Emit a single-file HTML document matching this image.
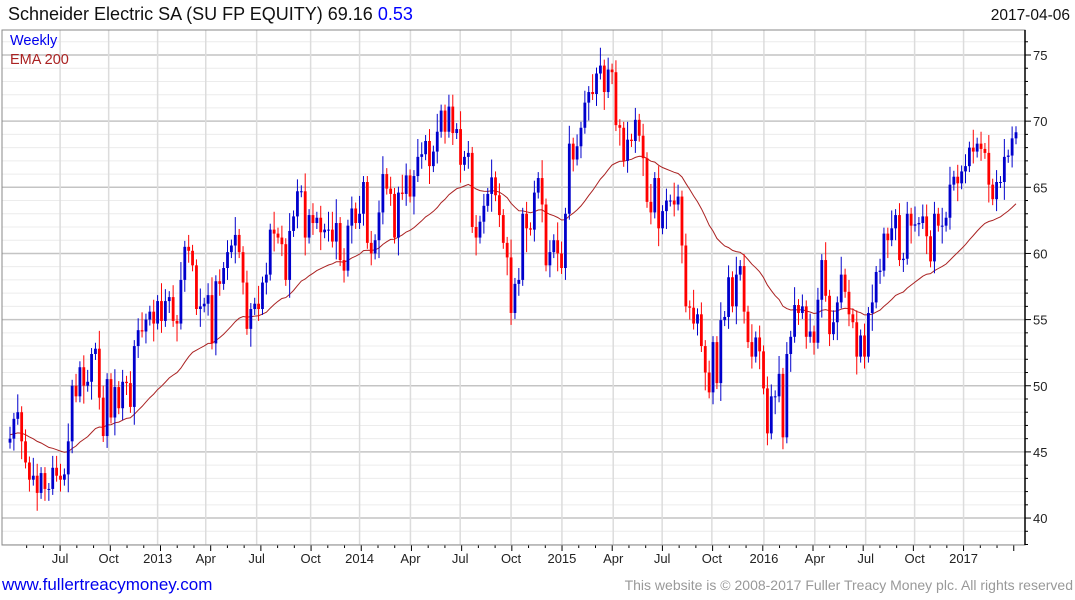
<!DOCTYPE html>
<html><head><meta charset="utf-8"><style>
body{margin:0;width:1075px;height:600px;background:#fff;overflow:hidden;font-family:"Liberation Sans",sans-serif}
svg{position:absolute;left:0;top:0}
</style></head><body>
<svg id="c" width="1075" height="600">
<text x="8" y="20" font-size="18" fill="#111">Schneider Electric SA (SU FP EQUITY) 69.16 <tspan fill="#0000ff">0.53</tspan></text>
<text x="1070" y="20" font-size="15.5" fill="#111" text-anchor="end">2017-04-06</text>
<g id="grid"></g><g id="ema"></g><g id="candles"></g><g id="axes"></g>
<text x="10" y="45" font-size="14.5" fill="#0000ee">Weekly</text>
<text x="10" y="64" font-size="14.5" fill="#aa2222">EMA 200</text>
<text x="2" y="590" font-size="17" fill="#0000ee">www.fullertreacymoney.com</text>
<text x="1073" y="590" font-size="14" fill="#999" text-anchor="end">This website is © 2008-2017 Fuller Treacy Money plc. All rights reserved</text>
</svg>
<script>
const closes=[46.0,47.5,48.0,45.8,44.2,42.9,43.2,41.9,43.4,42.2,42.2,43.8,43.2,42.9,43.3,45.8,50.0,49.2,51.4,50.0,50.3,52.4,52.8,49.1,46.2,50.5,47.6,49.9,48.3,50.3,50.2,48.4,53.0,54.2,54.1,55.0,55.6,54.7,56.4,54.9,56.4,56.7,54.9,54.7,58.0,60.5,60.2,
59.1,55.8,56.0,56.2,56.85,53.2,57.9,57.7,58.9,60.1,60.6,61.4,60.1,57.8,54.3,55.8,56.2,55.8,57.8,58.4,61.8,61.5,61.2,60.7,58.0,61.7,62.8,64.7,64.7,61.2,62.9,62.3,62.7,61.6,61.8,61.8,60.9,62.3,59.5,58.7,62.1,63.4,62.3,63.0,65.4,60.8,60.0,61.0,63.1,66.0,64.9,
64.5,61.2,64.6,64.5,65.9,64.3,65.85,67.3,67.5,68.5,66.6,67.7,69.2,70.8,69.2,71.1,69.1,69.4,66.7,67.3,67.6,62.0,61.2,62.4,63.6,64.5,65.75,64.4,62.9,60.8,59.7,55.5,57.7,58.0,63.0,61.9,61.8,64.6,65.7,63.7,59.1,60.1,61.0,60.0,58.9,63.0,68.3,67.1,68.1,
69.5,71.4,72.2,72.05,73.6,74.2,72.2,73.9,73.7,69.7,69.5,67.0,68.6,68.5,70.1,68.9,67.2,63.9,63.1,65.7,61.9,63.2,64.0,64.0,63.7,64.3,60.6,56.0,55.9,54.7,55.4,53.0,51.0,49.5,53.3,50.2,54.96,55.2,58.2,56.0,58.4,59.05,55.6,53.3,52.2,53.65,52.6,49.8,46.4,
49.2,49.2,50.9,46.1,52.4,53.7,56.1,55.5,56.0,53.7,54.1,53.25,56.5,59.5,56.8,53.9,54.8,56.3,58.4,57.1,55.4,54.8,52.2,53.8,52.2,55.5,56.3,58.6,58.7,61.5,61.0,61.9,62.9,59.5,59.6,63.0,62.1,62.2,62.3,62.8,61.3,59.4,63.0,62.1,62.1,62.7,65.2,65.8,65.3,66.2,66.6,68.0,67.7,68.3,67.9,67.6,65.2,64.1,65.4,65.4,67.3,67.4,68.7,69.16];
const upWick="2131213211122213121221132113121212311213212131211312312121311211312131213121312121334121213112123121132113212131122131212121312113121212131213213121213131212113121213121213212131212113121312131212213121312131213121312121213121131212131221213131212131213121312121213121";
const dnWick="1213121312211213211313121213122132121312121312211312122121312131212131213121312131213121311212132121312131213121212131213121312132121412131213121212131213121312121312131312131212131213121312121312131213121212131213112131213121312121312131213121312121213121312121312112";
const tickLabels=["Jul","Oct","2013","Apr","Jul","Oct","2014","Apr","Jul","Oct","2015","Apr","Jul","Oct","2016","Apr","Jul","Oct","2017"];
const tickIndex=[12.9,25.4,38,50.4,63.5,77.4,90,103.1,115.9,129,142.1,155.3,167.9,180.7,194.1,207.2,220.3,232.9,245.5];
const yTicks=[40,45,50,55,60,65,70,75];
const emaPeriod=40;
const NS="http://www.w3.org/2000/svg";
const L=2,R=1025,T=30,B=545;
const n=closes.length;
const xs=i=>10+i*(1006/(n-1));
const ys=p=>55+(75-p)*13.23;
function mk(tag,attrs,parent){const e=document.createElementNS(NS,tag);for(const k in attrs)e.setAttribute(k,attrs[k]);parent.appendChild(e);return e;}
const grid=document.getElementById('grid'),axes=document.getElementById('axes'),cg=document.getElementById('candles'),eg=document.getElementById('ema');
for(let p=38;p<=77;p++){const y=ys(p);if(y<T||y>B)continue;
 const l=mk('line',{x1:L,x2:R,y1:y,y2:y,stroke:p%5===0?'#c4c4c4':'#ececec','stroke-width':p%5===0?1.5:1},grid);
 
 
 const t=mk('line',{x1:R,x2:R+(p%5===0?6:3),y1:y,y2:y,stroke:'#000'},axes);
 
 }
yTicks.forEach(v=>{const t=mk('text',{x:1033,y:ys(v)+5,'font-size':13,fill:'#222'},axes);t.textContent=v;
 
 });
tickIndex.forEach((ti,k)=>{const x=xs(ti);
 const l=mk('line',{x1:x,x2:x,y1:T,y2:B,stroke:'#dcdcdc','stroke-width':1.5},grid);
 
 
 const t=mk('text',{x:x,y:563,'font-size':13,fill:'#222','text-anchor':'middle'},axes);t.textContent=tickLabels[k];
 
 });
for(let m=0;m<60;m++){const ti=tickIndex[0]+(m-2)*(tickIndex[18]-tickIndex[0])/54;const x=xs(ti);if(x<L||x>R)continue;
 const t=mk('line',{x1:x,x2:x,y1:B,y2:B+(m%3===2?6:3),stroke:'#000'},axes);
 
 }
const fr=mk('rect',{x:L,y:T,width:R-L,height:B-T,fill:'none',stroke:'#888'},axes);


const ax=mk('line',{x1:R,x2:R,y1:T,y2:B,stroke:'#000','stroke-width':1.5},axes);


for(let i=0;i<n;i++){const c=closes[i],o=i?closes[i-1]:c-0.3;
 const hi=Math.max(o,c)+(+upWick[i%upWick.length])*0.45,lo=Math.min(o,c)-(+dnWick[i%dnWick.length])*0.45;
 const col=c>=o?'#0000cc':'#ff0000';const x=xs(i);
 const w=mk('line',{x1:x,x2:x,y1:ys(hi),y2:ys(lo),stroke:col,'stroke-width':1},cg);
 
 
 const y1=ys(Math.max(o,c)),y2=ys(Math.min(o,c));
 const b=mk('rect',{x:x-1.4,y:y1,width:2.8,height:Math.max(1,y2-y1),fill:col},cg);
 
 }
let e=closes[0]+0.3;const a=2/(emaPeriod+1);let d='';
for(let i=0;i<n;i++){e=i?e+a*(closes[i]-e):e;d+=(i?'L':'M')+xs(i).toFixed(1)+' '+ys(e).toFixed(1);}
const pth=mk('path',{d:d,fill:'none',stroke:'#aa2222','stroke-width':1},eg);


</script>
</body></html>
